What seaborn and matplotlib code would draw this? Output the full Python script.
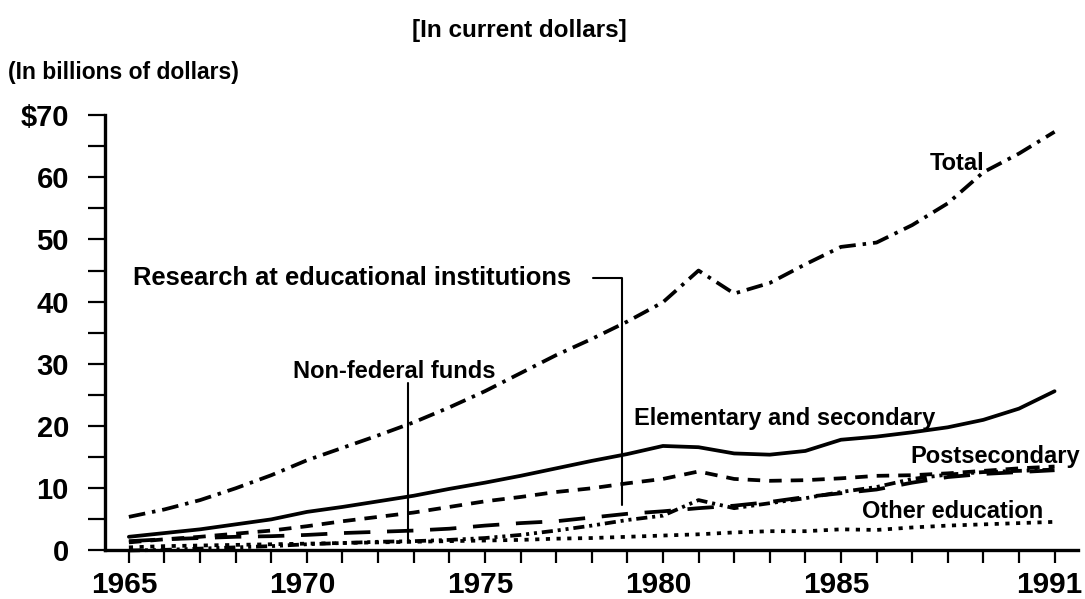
import matplotlib
matplotlib.use("Agg")
import matplotlib.pyplot as plt
import matplotlib.transforms as mtransforms
import seaborn as sns
import pandas as pd

# ---- data (billions of current dollars) ----
years = list(range(1965, 1992))
total = [5.4, 6.6, 8.1, 10.0, 12.1, 14.5, 16.5, 18.5, 20.6, 23.0, 25.6, 28.5, 31.4, 34.0,
         36.8, 39.9, 45.0, 41.3, 43.0, 46.0, 48.8, 49.5, 52.3, 55.8, 60.8, 63.8, 67.3]
elem_sec = [2.2, 2.8, 3.4, 4.2, 5.0, 6.2, 7.0, 7.9, 8.8, 9.9, 10.9, 12.0, 13.2, 14.4,
            15.5, 16.8, 16.6, 15.6, 15.4, 16.0, 17.8, 18.3, 19.0, 19.8, 21.0, 22.8, 25.6]
postsec = [1.3, 1.8, 2.2, 2.7, 3.2, 3.9, 4.7, 5.4, 6.1, 7.0, 7.9, 8.6, 9.4, 10.0,
           10.8, 11.5, 12.7, 11.5, 11.2, 11.3, 11.6, 12.0, 12.1, 12.4, 12.8, 13.2, 13.5]
research = [1.5, 1.8, 2.0, 2.2, 2.3, 2.5, 2.8, 3.0, 3.2, 3.5, 4.0, 4.4, 4.7, 5.3,
            5.9, 6.3, 6.8, 7.2, 7.8, 8.6, 9.2, 9.8, 10.9, 11.8, 12.3, 12.6, 12.9]
other_ed = [0.5, 0.7, 0.8, 0.9, 1.0, 1.1, 1.2, 1.3, 1.4, 1.5, 1.6, 1.7, 1.9, 2.0,
            2.2, 2.4, 2.6, 2.9, 3.1, 3.1, 3.4, 3.3, 3.7, 4.0, 4.2, 4.4, 4.6]
nonfed = [0.0, 0.1, 0.3, 0.5, 0.7, 1.0, 1.2, 1.4, 1.5, 1.7, 2.0, 2.5, 3.2, 4.0,
          4.9, 5.6, 8.1, 6.8, 7.6, 8.4, 9.4, 10.2, 11.5, 12.2, 12.6, 12.8, 13.0]

xtick_labels = {1965: "1965", 1970: "1970", 1975: "1975", 1980: "1980", 1985: "1985", 1991: "1991"}
ytick_labels = {0: "0", 10: "10", 20: "20", 30: "30", 40: "40", 50: "50", 60: "60", 70: "$70"}

sns.set_style("ticks")
plt.rcParams["font.family"] = ["Liberation Sans", "DejaVu Sans"]
plt.rcParams["font.weight"] = "bold"
plt.rcParams["lines.scale_dashes"] = False
for k in ("text.color", "axes.labelcolor", "xtick.color", "ytick.color", "axes.edgecolor"):
    plt.rcParams[k] = "black"

fig = plt.figure(figsize=(10.85, 5.99), dpi=100)
ax = fig.add_axes([0.0968, 0.0810, 0.8968, 0.7270])

series = [
    (total, (0, (12, 5, 2.5, 5))),
    (elem_sec, "-"),
    (postsec, (0, (9, 6.5))),
    (research, (0, (19, 12))),
    (other_ed, (0, (3, 4.7))),
    (nonfed, (0, (8, 3.5, 2.2, 3.5, 2.2, 3.5))),
]
for vals, ls in series:
    df = pd.DataFrame({"year": years, "value": vals})
    sns.lineplot(data=df, x="year", y="value", ax=ax, color="black", lw=2.7,
                 linestyle=ls, clip_on=False, legend=False)

ax.set_xlim(1964.33, 1991.66)
ax.set_ylim(0, 70)
sns.despine(ax=ax)
for s in ("left", "bottom"):
    ax.spines[s].set_linewidth(2.4)

ax.set_xticks(years)
ax.set_xticklabels([xtick_labels.get(y, "") for y in years])
yt = list(range(0, 71, 5))
ax.set_yticks(yt)
ax.set_yticklabels([ytick_labels.get(v, "") for v in yt])
ax.tick_params(axis="x", length=9, width=1.6, pad=6, labelsize=21.5)
ax.tick_params(axis="y", length=12, width=1.6, pad=14, labelsize=21)
ax.set_xlabel("")
ax.set_ylabel("")

shift = mtransforms.ScaledTranslation(-5 / 100, 0, fig.dpi_scale_trans)
for lbl in ax.get_xticklabels():
    lbl.set_transform(lbl.get_transform() + shift)

lab = dict(fontsize=17, fontweight="bold", va="baseline", ha="left")
ax.text(1987.5, 61.1, "Total", **lab)
ax.text(1965.11, 42.6, "Research at educational institutions",
        **{**lab, "fontsize": 18.4})
ax.text(1969.6, 27.7, "Non-federal funds", **lab)
ax.text(1979.19, 20.2, "Elementary and secondary", **lab)
ax.text(1986.94, 14.0, "Postsecondary", **lab)
ax.text(1985.59, 5.2, "Other education", **lab)

# leader lines
ax.plot([1978.03, 1978.85, 1978.85], [43.8, 43.8, 7.3], color="black", lw=1.5)
ax.plot([1972.84, 1972.84], [26.9, 1.7], color="black", lw=1.5)

fig.text(519 / 1085, 1 - 31 / 599, "[In current dollars]", ha="center", va="center",
         fontsize=17.5, fontweight="bold")
fig.text(8 / 1085, 1 - 73 / 599, "(In billions of dollars)", ha="left", va="center",
         fontsize=16.5, fontweight="bold")

fig.savefig("out.png", dpi=100)
